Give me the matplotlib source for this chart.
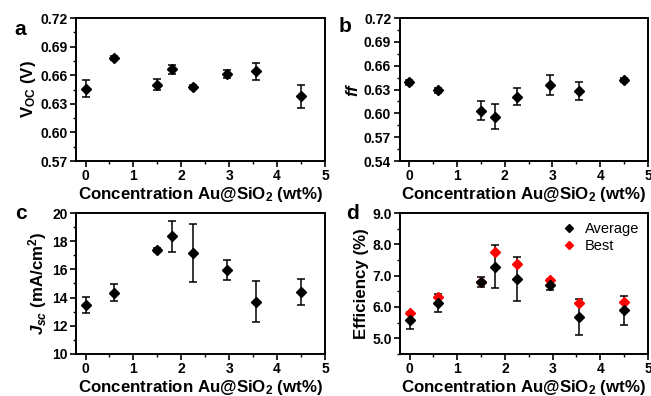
import matplotlib
matplotlib.use("Agg")
import matplotlib.pyplot as plt
from matplotlib.lines import Line2D
from matplotlib.ticker import MultipleLocator

plt.rcParams["font.family"] = ["Liberation Sans", "DejaVu Sans"]
plt.rcParams["font.weight"] = "bold"
plt.rcParams["axes.labelweight"] = "bold"
plt.rcParams["mathtext.fontset"] = "custom"
plt.rcParams["mathtext.rm"] = "Liberation Sans:weight=bold"
plt.rcParams["mathtext.bf"] = "Liberation Sans:weight=bold"
plt.rcParams["mathtext.it"] = "Liberation Sans:weight=bold:style=italic"
plt.rcParams["mathtext.default"] = "rm"

# Au@SiO2 concentration (wt%)
conc = [0, 0.6, 1.5, 1.8, 2.25, 2.95, 3.55, 4.5]

voc = [0.646, 0.678, 0.650, 0.666, 0.648, 0.661, 0.664, 0.638]
voc_err = [0.0088, 0.002, 0.006, 0.0045, 0.002, 0.004, 0.009, 0.012]

ff = [0.639, 0.629, 0.603, 0.596, 0.621, 0.636, 0.628, 0.642]
ff_err = [0.003, 0.003, 0.012, 0.0155, 0.011, 0.0127, 0.0118, 0.003]

jsc = [13.48, 14.36, 17.35, 18.34, 17.16, 15.97, 13.72, 14.38]
jsc_err = [0.55, 0.6, 0.15, 1.09, 2.07, 0.71, 1.47, 0.94]

eff_avg = [5.57, 6.12, 6.80, 7.29, 6.89, 6.71, 5.69, 5.89]
eff_err = [0.27, 0.28, 0.15, 0.69, 0.70, 0.18, 0.58, 0.47]
eff_best = [5.82, 6.33, 6.81, 7.77, 7.38, 6.85, 6.12, 6.17]

XLABEL = "Concentration Au@SiO$_2$ (wt%)"

fig = plt.figure(figsize=(6.51, 3.96), dpi=100)
ax_a = fig.add_axes([0.1167, 0.5934, 0.3825, 0.3611])
ax_b = fig.add_axes([0.6137, 0.5934, 0.3817, 0.3611])
ax_c = fig.add_axes([0.1167, 0.1061, 0.3825, 0.356])
ax_d = fig.add_axes([0.6144, 0.1061, 0.381, 0.356])
axes = [ax_a, ax_b, ax_c, ax_d]


def style(ax, ylim, ystep, yfmt, letter, lpos, ylabel):
    ax.set_xlim(-0.2, 5)
    ax.set_ylim(*ylim)
    ax.xaxis.set_major_locator(MultipleLocator(1))
    ax.xaxis.set_minor_locator(MultipleLocator(0.5))
    ax.yaxis.set_major_locator(MultipleLocator(ystep))
    ax.yaxis.set_minor_locator(MultipleLocator(ystep / 2))
    ax.yaxis.set_major_formatter(yfmt)
    for s in ax.spines.values():
        s.set_linewidth(1.4)
    ax.tick_params(which="major", direction="out", length=4, width=1.2,
                   labelsize=10, pad=2, top=False, right=False)
    ax.tick_params(which="minor", direction="out", length=2.5, width=1.0,
                   top=False, right=False)
    ax.set_xlabel(XLABEL, fontsize=12.2, labelpad=1)
    ax.set_ylabel(ylabel, fontsize=12.2, labelpad=2)
    ax.text(lpos[0], lpos[1], letter, transform=ax.transAxes, fontsize=15,
            fontweight="bold", va="center", ha="center")


def errpts(ax, y, yerr, color="black"):
    ax.errorbar(conc, y, yerr=yerr, fmt="D", color=color, ms=5,
                ecolor="black", elinewidth=1.1, capsize=3, capthick=1.1)


errpts(ax_a, voc, voc_err)
style(ax_a, (0.57, 0.72), 0.03, "{x:.2f}", "a", (-0.225, 0.92),
      "V$_{\\mathrm{OC}}$ (V)")

errpts(ax_b, ff, ff_err)
style(ax_b, (0.54, 0.72), 0.03, "{x:.2f}", "b", (-0.22, 0.94),
      "$\\mathit{ff}$")

errpts(ax_c, jsc, jsc_err)
style(ax_c, (10, 20), 2, "{x:.0f}", "c", (-0.22, 1.0),
      "$\\mathit{J}_{\\mathit{sc}}$ (mA/cm$^2$)")

errpts(ax_d, eff_avg, eff_err)
ax_d.plot(conc, eff_best, "D", color="red", ms=5)
style(ax_d, (4.5, 9.0), 1, "{x:.1f}", "d", (-0.19, 1.0), "Efficiency (%)")
handles = [Line2D([], [], ls="none", marker="D", color="black", ms=4),
           Line2D([], [], ls="none", marker="D", color="red", ms=4)]
ax_d.legend(handles, ["Average", "Best"], loc="upper right", frameon=False,
            handletextpad=0.5, borderaxespad=0.2, handlelength=1.2,
            labelspacing=0.25, prop={"weight": "normal", "size": 10.5})

fig.canvas.draw()
for ax in axes:
    for lab in ax.get_xticklabels() + ax.get_yticklabels():
        lab.set_fontweight("bold")

fig.savefig("out.png", dpi=100)
